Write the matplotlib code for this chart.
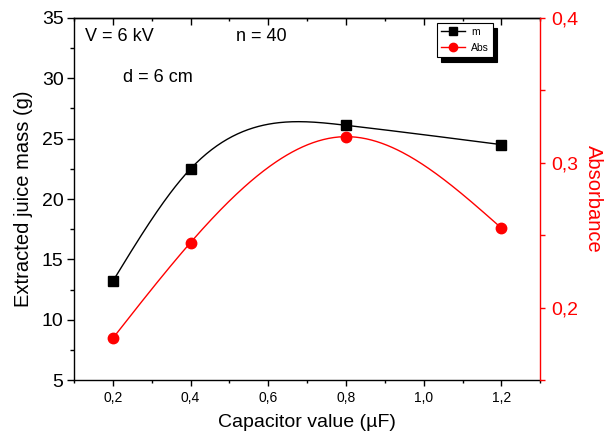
import numpy as np
import matplotlib
matplotlib.use("Agg")
from matplotlib import pyplot as plt
from matplotlib.ticker import MultipleLocator, FuncFormatter

plt.rcParams['font.family'] = ['Liberation Sans', 'DejaVu Sans']

capacitance = [0.2, 0.4, 0.8, 1.2]
mass = [13.2, 22.5, 26.1, 24.5]
absorbance = [0.179, 0.245, 0.318, 0.255]


def natural_spline(x, y, n=300):
    x = np.asarray(x, float)
    y = np.asarray(y, float)
    h = np.diff(x)
    k = len(x)
    a = np.zeros((k, k))
    b = np.zeros(k)
    a[0, 0] = a[-1, -1] = 1.0
    for i in range(1, k - 1):
        a[i, i - 1] = h[i - 1]
        a[i, i] = 2 * (h[i - 1] + h[i])
        a[i, i + 1] = h[i]
        b[i] = 6 * ((y[i + 1] - y[i]) / h[i] - (y[i] - y[i - 1]) / h[i - 1])
    m = np.linalg.solve(a, b)
    xs = np.linspace(x[0], x[-1], n)
    idx = np.clip(np.searchsorted(x, xs) - 1, 0, k - 2)
    x0, x1 = x[idx], x[idx + 1]
    hh = x1 - x0
    t0, t1 = x1 - xs, xs - x0
    ys = (m[idx] * t0 ** 3 + m[idx + 1] * t1 ** 3) / (6 * hh) \
        + (y[idx] / hh - m[idx] * hh / 6) * t0 \
        + (y[idx + 1] / hh - m[idx + 1] * hh / 6) * t1
    return xs, ys


comma = FuncFormatter(lambda v, pos: f"{v:.1f}".replace('.', ','))

fig = plt.figure(figsize=(6.07, 4.43), dpi=100)
ax = fig.add_axes([0.1219, 0.1415, 0.7681, 0.8185])
ax2 = ax.twinx()

xs, ys = natural_spline(capacitance, mass)
ax.plot(xs, ys, color='black', lw=1.0)
ax.plot(capacitance, mass, ls='none', marker='s', ms=7, color='black')

xs, ys = natural_spline(capacitance, absorbance)
ax2.plot(xs, ys, color='red', lw=1.0)
ax2.plot(capacitance, absorbance, ls='none', marker='o', ms=7.5, color='red')

ax.set_xlim(0.1, 1.3)
ax.set_ylim(5, 35)
ax2.set_ylim(0.15, 0.4)

ax.xaxis.set_major_locator(MultipleLocator(0.2))
ax.xaxis.set_minor_locator(MultipleLocator(0.1))
ax.xaxis.set_major_formatter(comma)
ax.yaxis.set_major_locator(MultipleLocator(5))
ax.yaxis.set_minor_locator(MultipleLocator(2.5))
ax2.yaxis.set_major_locator(MultipleLocator(0.1))
ax2.yaxis.set_minor_locator(MultipleLocator(0.05))
ax2.yaxis.set_major_formatter(comma)

ax.tick_params(axis='x', which='major', length=4, width=1, labelsize=10, pad=4)
ax.tick_params(axis='x', which='minor', length=2.5, width=1)
ax.tick_params(axis='y', which='major', length=5, width=1, labelsize=14, pad=2.5)
ax.tick_params(axis='y', which='minor', length=3, width=1)
ax2.tick_params(axis='y', which='major', length=3.6, width=1, labelsize=14,
                colors='red', pad=4)
ax2.tick_params(axis='y', which='minor', length=3.6, width=1, colors='red')

# top edge carries inward ticks only
top = ax.secondary_xaxis('top')
top.xaxis.set_major_locator(MultipleLocator(0.2))
top.xaxis.set_minor_locator(MultipleLocator(0.1))
top.tick_params(which='major', direction='in', length=5, width=1, labeltop=False)
top.tick_params(which='minor', direction='in', length=2.5, width=1)

for s in ax.spines.values():
    s.set_linewidth(1.0)
ax.spines['right'].set_visible(False)
for name in ('left', 'top', 'bottom'):
    ax2.spines[name].set_visible(False)
ax2.spines['right'].set_color('red')
ax2.spines['right'].set_linewidth(1.0)
top.spines['top'].set_linewidth(1.0)

ax.set_xlabel('Capacitor value (µF)', fontsize=14, labelpad=6)
ax.set_ylabel('Extracted juice mass (g)', fontsize=14.5, labelpad=6)
ax2.set_ylabel('Absorbance', fontsize=14.5, color='red', rotation=270, labelpad=18)

ax.text(0.024, 0.947, 'V = 6 kV', transform=ax.transAxes, fontsize=13, va='center')
ax.text(0.347, 0.947, 'n = 40', transform=ax.transAxes, fontsize=13, va='center')
ax.text(0.105, 0.836, 'd = 6 cm', transform=ax.transAxes, fontsize=13, va='center')

h1, = ax.plot([], [], color='black', lw=1.0, marker='s', ms=5.5)
h2, = ax.plot([], [], color='red', lw=1.0, marker='o', ms=6)
leg = ax2.legend([h1, h2], ['m', 'Abs'], loc='upper left',
                 bbox_to_anchor=(0.778, 0.986), borderaxespad=0, fontsize=7.5,
                 fancybox=False, framealpha=1, edgecolor='black',
                 handlelength=2.3, handletextpad=0.6, borderpad=0.4,
                 labelspacing=0.55,
                 shadow={'color': 'black', 'alpha': 1, 'ox': 3, 'oy': -3.5})
leg.get_frame().set_linewidth(0.8)

fig.savefig('out.png', dpi=100)
